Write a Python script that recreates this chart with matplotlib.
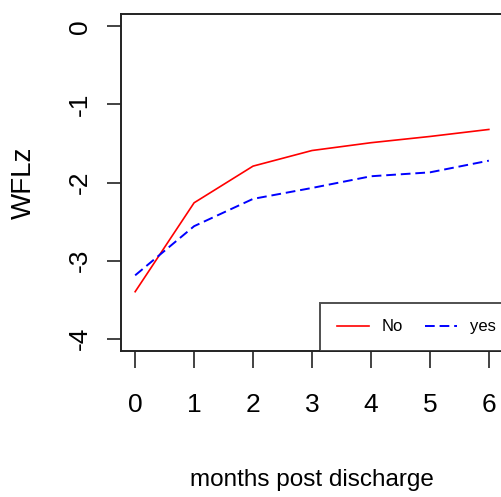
import matplotlib
matplotlib.use("Agg")
import matplotlib.pyplot as plt

months = [0, 1, 2, 3, 4, 5, 6]
wflz_no = [-3.40, -2.26, -1.79, -1.59, -1.49, -1.41, -1.32]
wflz_yes = [-3.19, -2.56, -2.21, -2.07, -1.92, -1.87, -1.72]
legend_labels = ["No", "yes"]

plt.rcParams["axes.unicode_minus"] = False
narrow = ["Liberation Sans Narrow", "Liberation Sans", "DejaVu Sans"]
regular = ["Liberation Sans", "DejaVu Sans"]

fig = plt.figure(figsize=(5.01, 4.97), dpi=100)
ax = fig.add_axes([121 / 501, 146 / 497, 382 / 501, 337 / 497])

ax.plot(months, wflz_no, color="#FF0000", lw=1.2, label=legend_labels[0])
ax.plot(months, wflz_yes, color="#0000FF", lw=1.4, dashes=(5, 2.5), label=legend_labels[1])

ax.set_xlim(-0.24, 6.24)
ax.set_ylim(-4.16, 0.16)
ax.set_xticks(months)
ax.set_yticks([0, -1, -2, -3, -4])

for s in ax.spines.values():
    s.set_color("#222222")
    s.set_linewidth(1.4)

ax.tick_params(axis="x", length=12, width=1.2, pad=18.5, color="#222222")
ax.tick_params(axis="y", length=10, width=1.2, pad=11, color="#222222")
for lab in ax.get_xticklabels():
    lab.set_family(narrow)
    lab.set_fontsize(19)
for lab in ax.get_yticklabels():
    lab.set_family(regular)
    lab.set_fontsize(19)
    lab.set_rotation(90)
    lab.set_va("center")

ax.set_xlabel("months post discharge", family=narrow, fontsize=17.5, labelpad=37)
ax.set_ylabel("WFLz", family=regular, fontsize=20, labelpad=22)

leg = ax.legend(loc="lower right", bbox_to_anchor=(1.025, 0.0), ncol=2,
                frameon=True, fancybox=False, borderaxespad=0,
                prop={"family": narrow, "size": 12},
                handlelength=1.9, handletextpad=0.8, columnspacing=1.3,
                borderpad=1.0)
leg.get_frame().set_edgecolor("#222222")
leg.get_frame().set_linewidth(1.4)

fig.savefig("out.png", dpi=100)
